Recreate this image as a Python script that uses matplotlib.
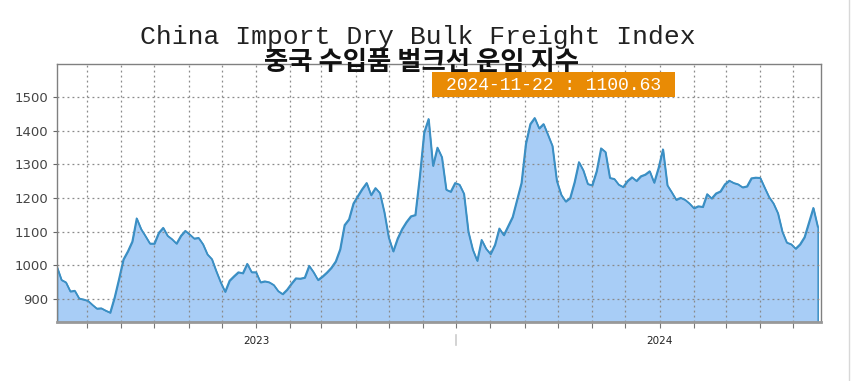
import numpy as np
import pandas as pd
import matplotlib
matplotlib.use("Agg")
import matplotlib.pyplot as plt
import matplotlib.dates as mdates
from matplotlib.lines import Line2D
from matplotlib.patches import Rectangle

# index values, one every 4 days from 2022-07-05
start_date = "2022-07-05"
values = [
    995, 957, 950, 923, 925, 902, 899, 895, 883, 872,
    873, 866, 860, 905, 960, 1018, 1042, 1071, 1140, 1108,
    1087, 1065, 1065, 1097, 1112, 1088, 1078, 1065, 1088, 1103,
    1092, 1080, 1082, 1063, 1033, 1019, 983, 950, 922, 955,
    968, 980, 977, 1005, 980, 980, 950, 953, 950, 942,
    924, 915, 928, 946, 962, 961, 964, 999, 980, 957,
    967, 979, 993, 1012, 1048, 1120, 1137, 1184, 1206, 1227,
    1245, 1209, 1230, 1215, 1158, 1083, 1042, 1080, 1108, 1129,
    1146, 1150, 1263, 1395, 1435, 1296, 1350, 1322, 1225, 1219,
    1245, 1240, 1213, 1100, 1047, 1014, 1076, 1050, 1034, 1061,
    1110, 1090, 1117, 1144, 1195, 1245, 1362, 1420, 1438, 1407,
    1420, 1388, 1355, 1251, 1210, 1190, 1200, 1247, 1307, 1282,
    1242, 1238, 1280, 1348, 1337, 1260, 1257, 1240, 1233, 1251,
    1262, 1251, 1265, 1270, 1280, 1246, 1290, 1345, 1238, 1217,
    1195, 1201, 1195, 1184, 1170, 1176, 1174, 1212, 1199, 1214,
    1220, 1241, 1252, 1245, 1241, 1232, 1235, 1259, 1261, 1260,
    1231, 1203, 1184, 1155, 1100, 1068, 1063, 1050, 1063, 1084,
    1127, 1171, 1115,
]
dates = pd.date_range(start_date, periods=len(values), freq="4D")

title_en = "China Import Dry Bulk Freight Index"
title_kr = "중국 수입품 벌크선 운임 지수"
last_label = "2024-11-22 : 1100.63"
yticks = [900, 1000, 1100, 1200, 1300, 1400, 1500]
ymin, ymax = 832, 1598

line_color = "#3b8fc4"
fill_color = "#a8cdf6"
box_color = "#e98b05"

fig = plt.figure(figsize=(8.52, 3.81), dpi=100)
ax = fig.add_axes([57 / 852, 1 - 322 / 381, (821 - 57) / 852, (322 - 64) / 381])

ax.fill_between(dates, values, ymin, facecolor=fill_color,
                edgecolor=line_color, linewidth=1.1, zorder=1)
ax.plot(dates, values, color=line_color, linewidth=1.2, zorder=2)

ax.set_ylim(ymin, ymax)
ax.set_xlim(pd.Timestamp("2022-07-05"), pd.Timestamp("2024-05-26"))
ax.set_yticks(yticks)

ax.xaxis.set_major_locator(mdates.MonthLocator())
ax.xaxis.set_major_formatter(
    plt.FuncFormatter(lambda x, p: str(mdates.num2date(x).year)
                      if mdates.num2date(x).month == 1 else ""))

ax.grid(True, color="#8a8a8a", linestyle=(0, (1.5, 2.5)), linewidth=0.9)
for l in ax.get_xgridlines() + ax.get_ygridlines():
    l.set_zorder(1.5)

ax.tick_params(axis="y", labelsize=9.5, labelcolor="#444444", color="#666666",
               length=3, pad=3)
ax.tick_params(axis="x", labelsize=7.5, labelcolor="#222222", color="#777777",
               length=4, pad=6)

for side in ["left", "top", "right"]:
    ax.spines[side].set_color("#808080")
    ax.spines[side].set_linewidth(1.0)
ax.spines["bottom"].set_color("#999999")
ax.spines["bottom"].set_linewidth(2.0)

# half-year separator under the axis
ax.plot([pd.Timestamp("2023-07-01")] * 2, [-0.05, -0.09],
        transform=ax.get_xaxis_transform(), clip_on=False,
        color="#cccccc", linewidth=1.2)

fig.text(418 / 852, 1 - 37 / 381, title_en, ha="center", va="center",
         fontsize=19, family="Liberation Mono", color="#222222")
fig.text(421 / 852, 1 - 63 / 381, title_kr, ha="center", va="center",
         fontsize=19, family=["Noto Sans CJK KR", "DejaVu Sans"],
         weight="bold", color="#111111", zorder=5)

fig.add_artist(Rectangle((432 / 852, 1 - 97 / 381), (675 - 432) / 852,
                         (97 - 72) / 381, transform=fig.transFigure,
                         facecolor=box_color, edgecolor="none", zorder=4))
fig.text(553 / 852, 1 - 85 / 381, last_label, ha="center", va="center",
         fontsize=13, family="Liberation Mono", color="white", zorder=5)

fig.add_artist(Line2D([849 / 852] * 2, [0, 1], transform=fig.transFigure,
                      color="#d8d8d8", linewidth=1))

fig.savefig("out.png", dpi=100)
